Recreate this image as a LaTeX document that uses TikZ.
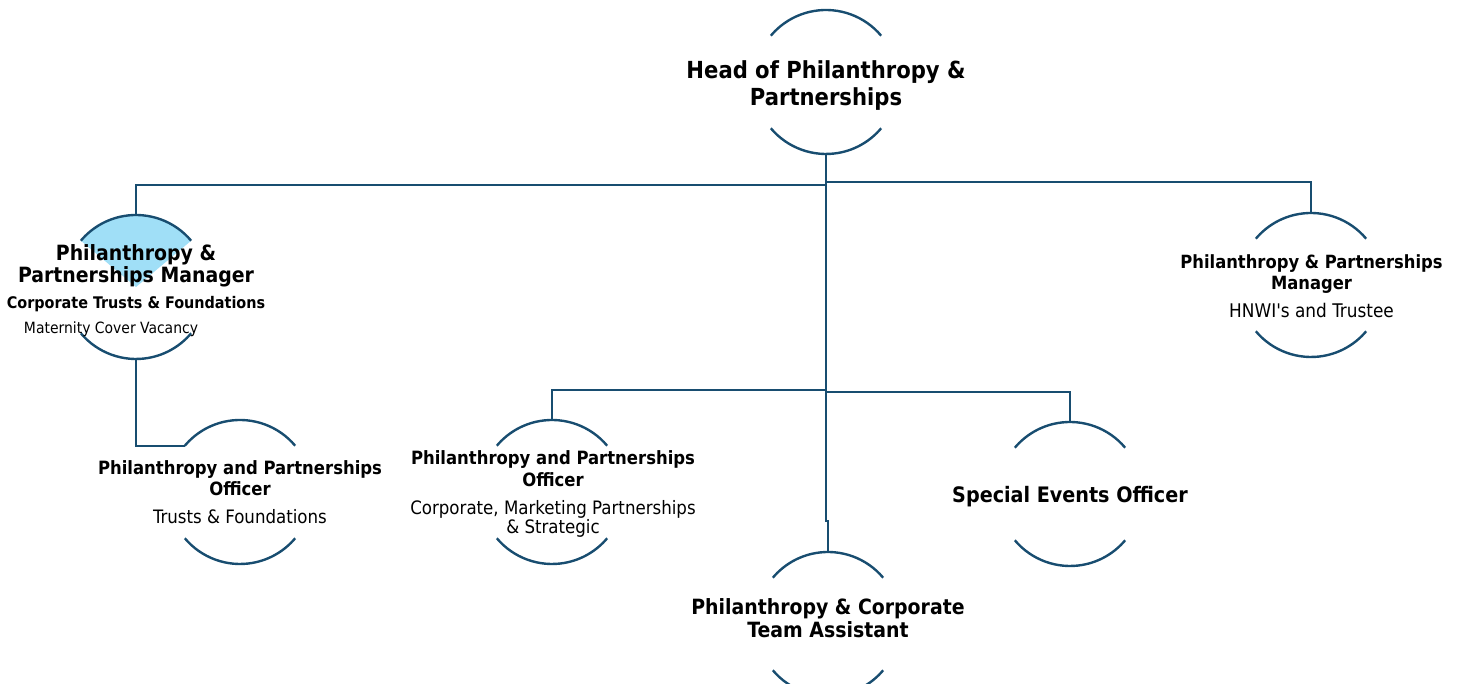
\documentclass[tikz,border=0pt]{standalone}
\usepackage{fontspec}
\setmainfont{DejaVu Sans Condensed}
\definecolor{chartblue}{RGB}{24,77,112}
\definecolor{chartsky}{RGB}{160,223,247}
% top and bottom arcs of a role ring
\newcommand{\halfrings}[1]{%
  \draw [ringline] (#1.40) arc [start angle=40, end angle=140, radius=72pt];
  \draw [ringline] (#1.220) arc [start angle=220, end angle=320, radius=72pt];}

\begin{document}
\begin{tikzpicture}[x=100pt, y=100pt,
    ring/.style={circle,minimum size=144pt,inner sep=0pt,outer sep=0pt},
    ringline/.style={draw=chartblue,line width=2.4pt},
    link/.style={draw=chartblue,line width=2.4pt},
    role/.style={align=center,inner sep=0pt,text=black}]
  \useasboundingbox (0,0) rectangle (14.62,6.84);
  \node [ring] (h) at (8.26,6.02) {};
  \node [ring] (m1) at (1.36,3.97) {};
  \node [ring] (m2) at (13.11,3.99) {};
  \node [ring] (o1) at (2.40,1.92) {};
  \node [ring] (o2) at (5.52,1.92) {};
  \node [ring] (a) at (8.28,0.60) {};
  \node [ring] (se) at (10.70,1.90) {};
  \fill [chartsky] (m1.center) -- (m1.40) arc [start angle=40, end angle=140, radius=72pt] -- cycle;
  \halfrings{h} \halfrings{m1} \halfrings{m2} \halfrings{o1}
  \halfrings{o2} \halfrings{a} \halfrings{se}
  % reporting lines
  \draw [link] (h.south) -- ++(0,-0.31) -| (m1.north);
  \draw [link] (h.south) -- ++(0,-0.28) -| (m2.north);
  \draw [link] (h.south) -- ++(0,-2.36) -| (o2.north);
  \draw [link] (h.south) -- ++(0,-2.38) -| (se.north);
  \draw [link] (h.south) -- ++(0,-3.67) -| (a.north);
  \draw [link] (m1.south) |- (o1.140);
  % role titles
  \node [role,font=\bfseries\fontsize{23.5}{27}\selectfont] (h-text) at (8.26,5.985)
    {Head of Philanthropy \&\\Partnerships};
  \node [role,font=\bfseries\fontsize{21}{22}\selectfont] (m1-text) at (1.36,3.93)
    {Philanthropy \&\\Partnerships Manager\\[4pt]
     {\fontsize{16}{18}\selectfont Corporate Trusts \& Foundations}\\[3pt]
     {\mdseries\fontsize{15.5}{18}\selectfont Maternity Cover Vacancy\hspace*{50pt}}};
  \node [role,font=\bfseries\fontsize{18.3}{21}\selectfont] (o1-text) at (2.40,1.915)
    {Philanthropy and Partnerships\\Officer\\[7pt]
     {\mdseries\fontsize{18.5}{19}\selectfont Trusts \& Foundations}};
  \node [role,font=\bfseries\fontsize{18.3}{21}\selectfont] (o2-text) at (5.53,1.905)
    {Philanthropy and Partnerships\\[1pt]Officer\\[7pt]
     {\mdseries\fontsize{18.5}{19}\selectfont Corporate, Marketing Partnerships}\\[-2pt]
     {\mdseries\fontsize{18.5}{19}\selectfont \& Strategic}};
  \node [role,font=\bfseries\fontsize{21}{23}\selectfont] (a-text) at (8.28,0.655)
    {Philanthropy \& Corporate\\Team Assistant};
  \node [role,font=\bfseries\fontsize{21.3}{23}\selectfont] (se-text) at (10.70,1.87)
    {Special Events Officer};
  \node [role,font=\bfseries\fontsize{18.2}{21}\selectfont] (m2-text) at (13.115,3.98)
    {Philanthropy \& Partnerships\\Manager\\[7pt]
     {\mdseries\fontsize{18.8}{19}\selectfont HNWI\textquotesingle s and Trustee}};
\end{tikzpicture}
\end{document}
